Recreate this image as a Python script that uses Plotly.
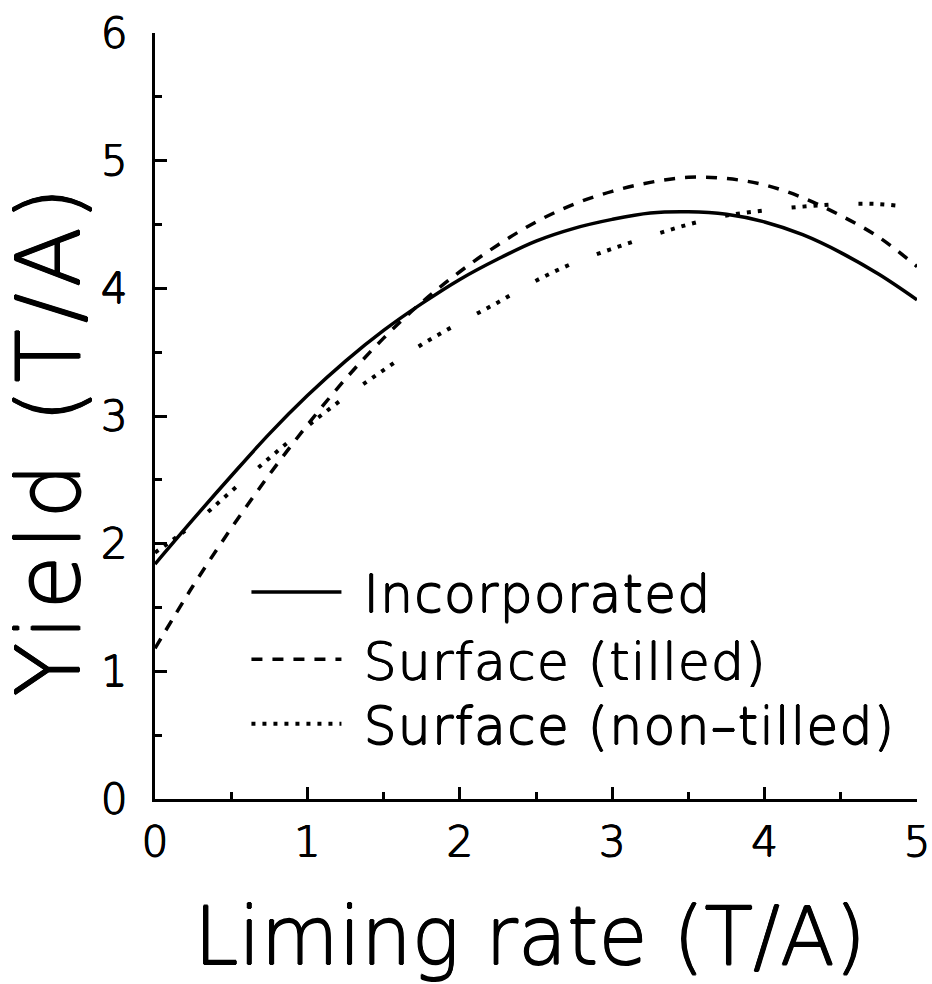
import plotly.graph_objects as go

liming_rate = [0, 0.25, 0.5, 0.75, 1.0, 1.25, 1.5, 1.75, 2.0, 2.25, 2.5,
               2.75, 3.0, 3.25, 3.5, 3.75, 4.0, 4.25, 4.5, 4.75, 5.0]
incorporated = [1.84, 2.19, 2.53, 2.86, 3.16, 3.43, 3.67, 3.88, 4.07, 4.23, 4.37,
                4.47, 4.54, 4.59, 4.60, 4.58, 4.52, 4.42, 4.28, 4.11, 3.91]
surface_tilled = [1.18, 1.67, 2.12, 2.54, 2.93, 3.29, 3.61, 3.89, 4.13, 4.34, 4.52,
                  4.66, 4.76, 4.83, 4.87, 4.86, 4.81, 4.71, 4.57, 4.40, 4.17]
surface_nontilled = [1.93, 2.15, 2.41, 2.67, 2.92, 3.15, 3.36, 3.56, 3.73, 3.89, 4.06,
                     4.20, 4.31, 4.41, 4.50, 4.57, 4.61, 4.64, 4.66, 4.66, 4.63]

series_names = ["Incorporated", "Surface (tilled)", "Surface (non\u2013tilled)"]
x_ticks = [0, 1, 2, 3, 4, 5]
y_ticks = [0, 1, 2, 3, 4, 5, 6]

FONT = "DejaVu Sans"
WEIGHT = 200
SHADOW = "0.7px 0 0 black, -0.7px 0 0 black, 0 0.7px 0 black, 0 -0.7px 0 black"
LW = 3.5
GAP = "\u2004"


def spaced(text, px):
    return '<span style="letter-spacing:%spx">%s</span>' % (px, text)


fig = go.Figure()
fig.add_trace(go.Scatter(x=liming_rate, y=incorporated, mode="lines",
                         name=GAP + spaced(series_names[0], 1.2), legend="legend",
                         line=dict(color="black", width=LW, shape="spline")))
fig.add_trace(go.Scatter(x=liming_rate, y=surface_tilled, mode="lines",
                         name=GAP + spaced(series_names[1], 1.2), legend="legend2",
                         line=dict(color="black", width=LW, shape="spline", dash="11px,10px")))
fig.add_trace(go.Scatter(x=liming_rate, y=surface_nontilled, mode="lines",
                         name=series_names[2], showlegend=False,
                         line=dict(color="black", width=4, shape="spline",
                                   dash="4px,7px,4px,7px,4px,7px,4px,30px")))
# legend sample for the dotted series (regular dots)
fig.add_trace(go.Scatter(x=[None], y=[None], mode="lines",
                         name=GAP + spaced(series_names[2], 1.2), legend="legend3",
                         line=dict(color="black", width=4, dash="4px,7px")))

axis_common = dict(
    showline=True, linecolor="black", linewidth=3,
    showgrid=False, zeroline=False, automargin=False,
    ticks="inside", ticklen=12, tickwidth=3, tickcolor="black",
    tickfont=dict(family=FONT, size=42, color="black", weight=WEIGHT, shadow=SHADOW),
    minor=dict(ticks="inside", ticklen=7, tickwidth=3, tickcolor="black", dtick=0.5),
)

fig.update_xaxes(range=[0, 5], tickmode="array", tickvals=x_ticks,
                 ticktext=[str(v) for v in x_ticks], ticklabelstandoff=4, **axis_common)
fig.update_yaxes(range=[0, 6], tickmode="array", tickvals=y_ticks,
                 ticktext=[str(v) for v in y_ticks], ticklabelstandoff=16, **axis_common)

fig.add_annotation(text="Liming rate (T/A)", xref="paper", yref="paper",
                   x=0.492, y=-0.180, xanchor="center", yanchor="middle",
                   showarrow=False,
                   font=dict(family=FONT, size=80, color="black", weight=WEIGHT, shadow=SHADOW))
fig.add_annotation(text=spaced("Yield (T/A)", 6), xref="paper", yref="paper",
                   x=-0.140, y=0.471, xanchor="center", yanchor="middle", textangle=-90,
                   showarrow=False,
                   font=dict(family=FONT, size=88, color="black", weight=WEIGHT, shadow=SHADOW))

legend_common = dict(x=0.12, xanchor="left", yanchor="top",
                     bgcolor="rgba(0,0,0,0)", itemwidth=90,
                     font=dict(family=FONT, size=52, color="black", weight=WEIGHT, shadow=SHADOW))

fig.update_layout(
    width=932, height=984,
    margin=dict(l=155, r=15, t=33, b=185, autoexpand=False),
    paper_bgcolor="white", plot_bgcolor="white",
    showlegend=True,
    legend=dict(y=0.323, **legend_common),
    legend2=dict(y=0.235, **legend_common),
    legend3=dict(y=0.151, **legend_common),
)

fig.write_html("out.html",
               config={"displayModeBar": False},
               post_script="document.body.style.margin='0';"
                           "document.body.style.overflow='hidden';")
